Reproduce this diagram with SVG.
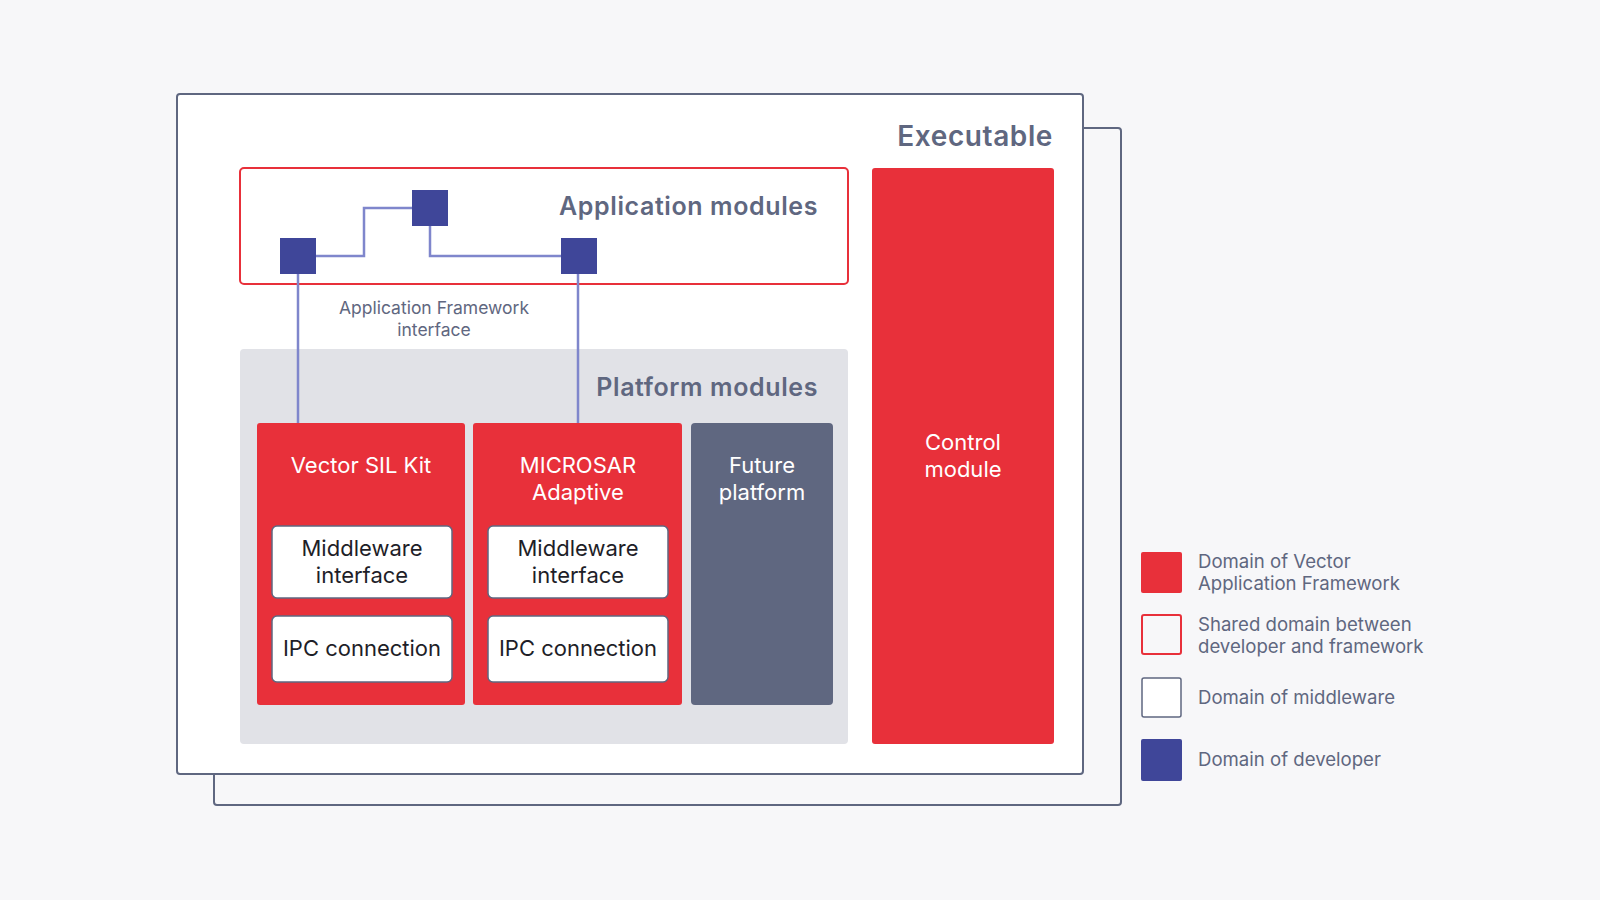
<svg xmlns="http://www.w3.org/2000/svg" width="1600" height="900" viewBox="0 0 1600 900">
<style>
text{font-family:Inter,"Noto Sans",sans-serif}
.t{fill:#5f6780}
.w{fill:#fff}
.k{fill:#1e1e28}
.h{font-size:25px;font-weight:600;letter-spacing:0.6px;fill:#5f6780}
.dev{fill:#3f4699}
.ln{stroke:#7f86cc;stroke-width:2.5;fill:none}
</style>
<rect width="1600" height="900" fill="#f7f7f9"/>
<g id="frames">
<rect x="214" y="128" width="907" height="677" rx="3" fill="#f7f7f9" stroke="#5f6780" stroke-width="2"/>
<rect x="177" y="94" width="906" height="680" rx="3" fill="#fff" stroke="#5f6780" stroke-width="2"/>
<text x="1053" y="146" text-anchor="end" class="h" font-size="28" style="font-size:28px">Executable</text>
</g>
<g id="app">
<rect x="240" y="168" width="608" height="116" rx="4" fill="#fff" stroke="#e8303a" stroke-width="2"/>
<text x="818" y="215" text-anchor="end" class="h">Application modules</text>
</g>
<g id="platform">
<rect x="240" y="349" width="608" height="395" rx="4" fill="#e1e2e7"/>
<text x="818" y="396" text-anchor="end" class="h">Platform modules</text>
</g>
<g id="connectors">
<path class="ln" d="M316 256H364V208H412M430 226V256H561M298 274V423M578 274V423"/>
</g>
<g id="dev1"><rect x="280" y="238" width="36" height="36" class="dev"/></g>
<g id="dev2"><rect x="412" y="190" width="36" height="36" class="dev"/></g>
<g id="dev3"><rect x="561" y="238" width="36" height="36" class="dev"/></g>
<text x="434" y="314" text-anchor="middle" font-size="17.5" class="t">Application Framework</text>
<text x="434" y="336" text-anchor="middle" font-size="17.5" class="t">interface</text>
<g id="sil" font-size="22">
<rect x="257" y="423" width="208" height="282" rx="3" fill="#e8303a"/>
<text x="361" y="473" text-anchor="middle" class="w">Vector SIL Kit</text>
<rect x="272" y="526" width="180" height="72" rx="5" fill="#fff" stroke="#5f6780" stroke-width="1.5"/>
<text x="362" y="556" text-anchor="middle" class="k">Middleware</text>
<text x="362" y="583" text-anchor="middle" class="k">interface</text>
<rect x="272" y="616" width="180" height="66" rx="5" fill="#fff" stroke="#5f6780" stroke-width="1.5"/>
<text x="362" y="656" text-anchor="middle" class="k">IPC connection</text>
</g>
<g id="microsar" font-size="22">
<rect x="473" y="423" width="209" height="282" rx="3" fill="#e8303a"/>
<text x="578" y="473" text-anchor="middle" class="w">MICROSAR</text>
<text x="578" y="500" text-anchor="middle" class="w">Adaptive</text>
<rect x="488" y="526" width="180" height="72" rx="5" fill="#fff" stroke="#5f6780" stroke-width="1.5"/>
<text x="578" y="556" text-anchor="middle" class="k">Middleware</text>
<text x="578" y="583" text-anchor="middle" class="k">interface</text>
<rect x="488" y="616" width="180" height="66" rx="5" fill="#fff" stroke="#5f6780" stroke-width="1.5"/>
<text x="578" y="656" text-anchor="middle" class="k">IPC connection</text>
</g>
<g id="future" font-size="22">
<rect x="691" y="423" width="142" height="282" rx="4" fill="#5f6780"/>
<text x="762" y="473" text-anchor="middle" class="w">Future</text>
<text x="762" y="500" text-anchor="middle" class="w">platform</text>
</g>
<g id="control" font-size="22">
<rect x="872" y="168" width="182" height="576" rx="3" fill="#e8303a"/>
<text x="963" y="450" text-anchor="middle" class="w">Control</text>
<text x="963" y="477" text-anchor="middle" class="w">module</text>
</g>
<g id="legend" font-size="18.6">
<rect x="1141" y="552" width="41" height="41" rx="2" fill="#e8303a"/>
<text x="1198" y="568" class="t">Domain of Vector</text>
<text x="1198" y="590" class="t">Application Framework</text>
<rect x="1142" y="615" width="39" height="39" rx="2" fill="#f7f7f9" stroke="#e8303a" stroke-width="2"/>
<text x="1198" y="631" class="t">Shared domain between</text>
<text x="1198" y="653" class="t">developer and framework</text>
<rect x="1142" y="678" width="39" height="39" rx="2" fill="#fff" stroke="#5f6780" stroke-width="1.5"/>
<text x="1198" y="704" class="t">Domain of middleware</text>
<rect x="1141" y="739" width="41" height="42" rx="2" class="dev"/>
<text x="1198" y="766" class="t">Domain of developer</text>
</g>
</svg>
